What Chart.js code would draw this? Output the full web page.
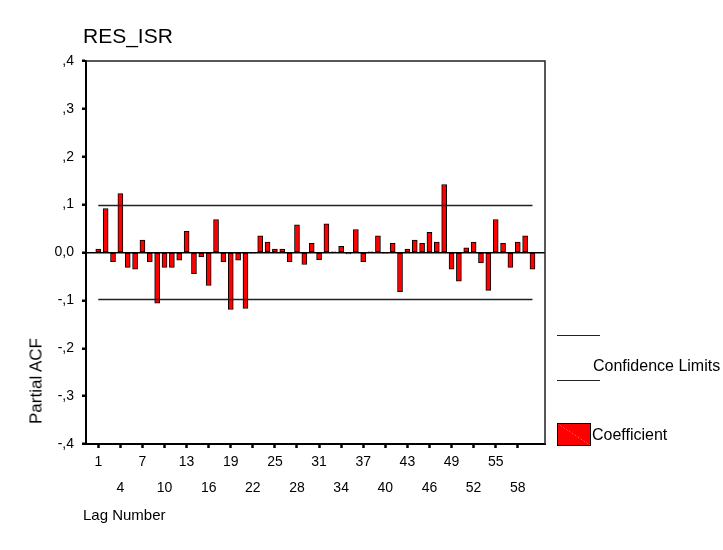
<!DOCTYPE html>
<html lang="es">
<head>
    <meta charset="UTF-8">
    <title>RES_ISR - Partial ACF</title>
    <style>
        body {
            margin: 0;
            background-color: #fff;
            font-family: "Liberation Sans", Arial, sans-serif;
        }

        #contenedor {
            position: relative;
            width: 723px;
            height: 550px;
        }

        .texto {
            position: absolute;
            color: #000;
            white-space: nowrap;
            line-height: 1;
        }

        #titulo { left: 83px; top: 25px; font-size: 21px; }
        #tituloY { left: 36px; top: 381px; font-size: 17px; transform: translate(-50%, -50%) rotate(-90deg); }
        #tituloX { left: 83px; top: 507px; font-size: 15px; }

        .linea-leyenda {
            position: absolute;
            left: 557px;
            width: 43px;
            height: 0;
            border-top: 1.5px solid #222;
        }

        #cajaCoef {
            position: absolute;
            left: 557px;
            top: 423px;
            width: 32px;
            height: 21px;
            border: 1px solid #000;
            background: linear-gradient(to top right, #ff0000 49%, #ff6060 50%, #ff0000 51%);
        }
    </style>
    <script src="https://cdn.jsdelivr.net/npm/chart.js"></script>
</head>
<body>
    <div id="contenedor">
        <canvas id="acfChart" width="723" height="550"></canvas>
        <div class="texto" id="titulo">RES_ISR</div>
        <div class="texto" id="tituloY">Partial ACF</div>
        <div class="texto" id="tituloX">Lag Number</div>
        <div class="linea-leyenda" style="top: 335px;"></div>
        <div class="linea-leyenda" style="top: 380px;"></div>
        <div class="texto" style="left: 593px; top: 358px; font-size: 16px;">Confidence Limits</div>
        <div id="cajaCoef"></div>
        <div class="texto" style="left: 592px; top: 427px; font-size: 16px;">Coefficient</div>
    </div>

    <script>
        // datos
        const lags = [
            1, 2, 3, 4, 5, 6, 7, 8, 9, 10,
            11, 12, 13, 14, 15, 16, 17, 18, 19, 20,
            21, 22, 23, 24, 25, 26, 27, 28, 29, 30,
            31, 32, 33, 34, 35, 36, 37, 38, 39, 40,
            41, 42, 43, 44, 45, 46, 47, 48, 49, 50,
            51, 52, 53, 54, 55, 56, 57, 58, 59, 60
        ];
        const coeficientes = [
            0.007, 0.092, -0.019, 0.123, -0.031, -0.035, 0.026, -0.019, -0.106, -0.031,
            -0.031, -0.016, 0.044, -0.044, -0.009, -0.069, 0.069, -0.019, -0.119, -0.016,
            -0.117, -0.001, 0.035, 0.022, 0.007, 0.007, -0.019, 0.058, -0.025, 0.019,
            -0.015, 0.060, 0.001, 0.013, -0.003, 0.048, -0.019, 0.001, 0.035, -0.001,
            0.019, -0.082, 0.007, 0.026, 0.019, 0.042, 0.022, 0.142, -0.035, -0.060,
            0.010, 0.022, -0.022, -0.079, 0.069, 0.019, -0.031, 0.022, 0.035, -0.035
        ];
        const limiteSup = 0.098;
        const limiteInf = -0.098;

        const ticksY = [-0.4, -0.3, -0.2, -0.1, 0, 0.1, 0.2, 0.3, 0.4];
        const etiquetasY = ["-,4", "-,3", "-,2", "-,1", "0,0", ",1", ",2", ",3", ",4"];
        const ticksX = [1, 4, 7, 10, 13, 16, 19, 22, 25, 28, 31, 34, 37, 40, 43, 46, 49, 52, 55, 58];

        const fuente = { family: "'Liberation Sans', Arial, sans-serif", size: 14 };

        // marco superior y derecho del area del grafico
        const marco = {
            id: 'marco',
            afterDraw(chart) {
                const { ctx, chartArea: a } = chart;
                ctx.save();
                ctx.strokeStyle = '#222';
                ctx.lineWidth = 1.5;
                ctx.beginPath();
                ctx.moveTo(a.left, a.top);
                ctx.lineTo(a.right, a.top);
                ctx.lineTo(a.right, a.bottom);
                ctx.stroke();
                ctx.restore();
            }
        };

        new Chart(document.getElementById('acfChart'), {
            type: 'bar',
            data: {
                datasets: [
                    {
                        type: 'bar',
                        label: 'Coefficient',
                        data: lags.map((l, i) => ({ x: l, y: coeficientes[i] })),
                        backgroundColor: '#ff0000',
                        borderColor: '#000',
                        borderWidth: 1,
                        borderSkipped: false,
                        barThickness: 5,
                        order: 2
                    },
                    {
                        type: 'line',
                        label: 'Confidence Limits',
                        data: [{ x: lags[0], y: limiteSup }, { x: lags[lags.length - 1], y: limiteSup }],
                        borderColor: '#222',
                        borderWidth: 1.5,
                        pointRadius: 0,
                        order: 1
                    },
                    {
                        type: 'line',
                        label: 'Confidence Limits',
                        data: [{ x: lags[0], y: limiteInf }, { x: lags[lags.length - 1], y: limiteInf }],
                        borderColor: '#222',
                        borderWidth: 1.5,
                        pointRadius: 0,
                        order: 1
                    }
                ]
            },
            options: {
                responsive: false,
                animation: false,
                layout: { padding: { left: 0, top: 61, right: 178, bottom: 0 } },
                plugins: {
                    legend: { display: false },
                    tooltip: { enabled: false }
                },
                scales: {
                    x: {
                        type: 'linear',
                        min: -0.67,
                        max: 61.7,
                        offset: false,
                        afterBuildTicks: s => { s.ticks = ticksX.map(v => ({ value: v })); },
                        afterFit: s => { s.height = 106; },
                        border: { display: true, color: '#000', width: 2 },
                        grid: {
                            offset: false,
                            drawOnChartArea: false,
                            tickColor: '#000',
                            tickLength: 4,
                            tickWidth: 2.5
                        },
                        ticks: {
                            color: '#000',
                            font: { ...fuente, lineHeight: 1.857 },
                            padding: 1,
                            maxRotation: 0,
                            autoSkip: false,
                            callback: (v, i) => i % 2 === 0 ? [String(v), ''] : ['', String(v)]
                        }
                    },
                    y: {
                        min: -0.4,
                        max: 0.4,
                        afterBuildTicks: s => { s.ticks = ticksY.map(v => ({ value: v })); },
                        afterFit: s => { s.width = 86; },
                        border: { display: true, color: '#000', width: 2 },
                        grid: {
                            color: c => (c.tick && c.tick.value === 0) ? '#000' : 'rgba(0,0,0,0)',
                            lineWidth: 1.5,
                            tickColor: '#000',
                            tickLength: 4,
                            tickWidth: 2.5
                        },
                        ticks: {
                            color: '#000',
                            font: fuente,
                            padding: 8,
                            callback: (v, i) => etiquetasY[i]
                        }
                    }
                }
            },
            plugins: [marco]
        });
    </script>
</body>
</html>
